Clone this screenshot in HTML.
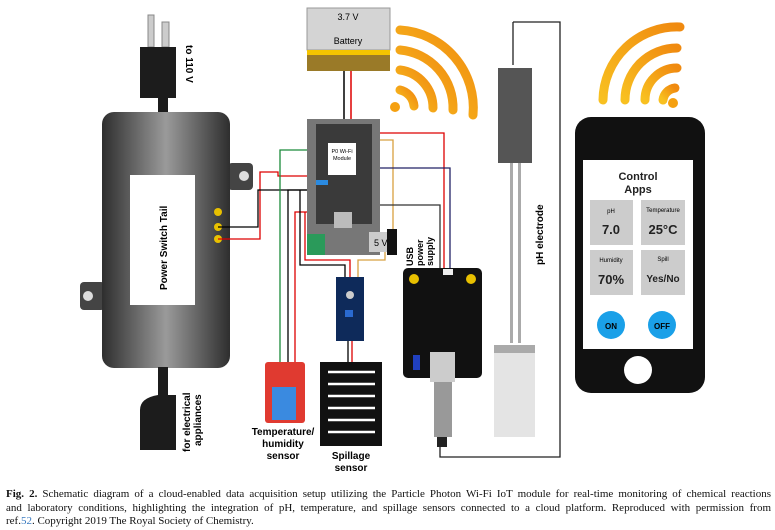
<!DOCTYPE html>
<html><head><meta charset="utf-8"><style>
body{margin:0;background:#fff;width:775px;height:530px;overflow:hidden}
svg{position:absolute;left:0;top:0}
.cap{position:absolute;left:6px;top:488px;width:765px;font-family:"Liberation Serif",serif;font-size:11px;line-height:13.5px;color:#111}
.cap div{text-align:justify;text-align-last:justify;white-space:nowrap}
.cap div.l{text-align-last:left}
</style></head><body>
<svg width="775" height="480" viewBox="0 0 775 480" font-family="Liberation Sans, sans-serif">
<defs>
<linearGradient id="box" x1="0" x2="1"><stop offset="0" stop-color="#2e2e2e"/><stop offset="0.5" stop-color="#9a9a9a"/><stop offset="1" stop-color="#2e2e2e"/></linearGradient>
<linearGradient id="wifi" x1="0" y1="1" x2="1" y2="0"><stop offset="0" stop-color="#f8c020"/><stop offset="1" stop-color="#f08a10"/></linearGradient>
</defs>
<rect x="148" y="15" width="6" height="32" fill="#ccc" stroke="#888"/>
<rect x="162" y="22" width="7" height="25" fill="#ccc" stroke="#888"/>
<path d="M140 47 H176 V98 H168 V112 H158 V98 H140 Z" fill="#1c1c1c"/>
<text transform="translate(186,45) rotate(90)" font-size="10" font-weight="bold">to 110 V</text>
<rect x="228" y="163" width="25" height="27" rx="4" fill="#444"/><circle cx="244" cy="176" r="5" fill="#ddd"/>
<rect x="80" y="282" width="25" height="28" rx="4" fill="#444"/><circle cx="88" cy="296" r="5" fill="#ddd"/>
<rect x="102" y="112" width="128" height="256" rx="12" fill="url(#box)"/>
<rect x="130" y="175" width="65" height="130" fill="#fff"/>
<text transform="translate(167,290) rotate(-90)" font-size="10" font-weight="bold">Power Switch Tail</text>
<circle cx="218" cy="212" r="4" fill="#e8c000"/><circle cx="218" cy="227" r="4" fill="#e8c000"/><circle cx="218" cy="239" r="4" fill="#e8c000"/>
<path d="M158 367 H168 V395 H176 V450 H140 V410 Q140 398 158 395 Z" fill="#1c1c1c"/>
<text transform="translate(190,452) rotate(-90)" font-size="10" font-weight="bold">for electrical</text>
<text transform="translate(201,446) rotate(-90)" font-size="10" font-weight="bold">appliances</text>
<rect x="307" y="8" width="83" height="42" fill="#d4d4d4" stroke="#999"/>
<rect x="307" y="50" width="83" height="5" fill="#f5c400"/>
<rect x="307" y="55" width="83" height="16" fill="#9a7a28"/>
<text x="348" y="20" font-size="9" text-anchor="middle">3.7 V</text>
<text x="348" y="44" font-size="9" text-anchor="middle">Battery</text>
<path d="M344 71 V120" stroke="#000" stroke-width="1.5"/><path d="M351 71 V120" stroke="#d00" stroke-width="1.5"/>
<g fill="none" stroke="url(#wifi)" stroke-width="9" stroke-linecap="round">
<path d="M400 90 A18 18 0 0 1 414 106"/><path d="M400 70 A38 38 0 0 1 433 108"/><path d="M400 50 A58 58 0 0 1 453 110"/><path d="M400 30 A78 78 0 0 1 473 115"/>
</g><circle cx="395" cy="107" r="5" fill="#f5a010"/>
<g fill="none" stroke="url(#wifi)" stroke-width="9" stroke-linecap="round">
<path d="M663 100 A14 14 0 0 1 675 88"/><path d="M645 100 A32 32 0 0 1 677 68"/><path d="M625 100 A52 52 0 0 1 677 48"/><path d="M603 100 A74 74 0 0 1 680 27"/>
</g><circle cx="673" cy="103" r="5" fill="#f5a010"/>
<g fill="none" stroke-width="1.3">
<path d="M218 239 H260 V172 H278 V176 H312" stroke="#d00"/>
<path d="M218 227 H258 V190 H312" stroke="#000"/>
<path d="M312 150 H280 V390" stroke="#1a8a3a"/>
<path d="M312 190 H288 V390" stroke="#000"/>
<path d="M312 212 H295 V390" stroke="#d00"/>
<path d="M300 190 V265 H345 V280" stroke="#000"/>
<path d="M305 212 V260 H350 V280" stroke="#d00"/>
<path d="M380 140 H393 V240 H385 V260 H358 V280" stroke="#d8a040"/>
<path d="M380 133 H444 V270" stroke="#d00"/>
<path d="M380 168 H450 V270" stroke="#226"/>
<path d="M380 205 H440 V270" stroke="#333"/>
<path d="M348 340 V368" stroke="#000"/><path d="M352 340 V368" stroke="#d00"/>
<path d="M513 22 V65 M513 22 H560 V457 H440 V440" stroke="#222"/>
</g>
<rect x="307" y="119" width="73" height="136" fill="#777"/>
<rect x="316" y="124" width="56" height="100" fill="#3a3a3a"/>
<rect x="328" y="143" width="28" height="32" fill="#fff"/>
<text x="342" y="153" font-size="5.5" text-anchor="middle">P0 Wi-Fi</text>
<text x="342" y="160" font-size="5.5" text-anchor="middle">Module</text>
<rect x="316" y="180" width="12" height="5" fill="#2a8ae0"/>
<rect x="334" y="212" width="18" height="16" fill="#bbb"/>
<rect x="307" y="234" width="18" height="21" fill="#2a9a5a"/>
<rect x="369" y="232" width="28" height="20" fill="#ccc"/>
<rect x="387" y="229" width="10" height="26" fill="#111"/>
<text x="374" y="246" font-size="9">5 V</text>
<g font-size="9" font-weight="bold"><text transform="translate(413,266) rotate(-90)">USB</text><text transform="translate(423,266) rotate(-90)">power</text><text transform="translate(433,266) rotate(-90)">supply</text></g>
<rect x="336" y="277" width="28" height="64" fill="#0e2a5a"/>
<circle cx="350" cy="295" r="4" fill="#ccc"/><rect x="345" y="310" width="8" height="7" fill="#2a6ad0"/>
<rect x="265" y="362" width="40" height="61" rx="3" fill="#e03a30"/>
<rect x="272" y="387" width="24" height="33" fill="#3a8ae0"/>
<g font-size="10" font-weight="bold" text-anchor="middle"><text x="283" y="435">Temperature/</text><text x="283" y="447">humidity</text><text x="283" y="459">sensor</text>
<text x="351" y="459">Spillage</text><text x="351" y="471">sensor</text></g>
<rect x="320" y="362" width="62" height="84" fill="#111"/>
<g stroke="#fff" stroke-width="2.5"><path d="M328 372 H375 M328 384 H375 M328 396 H375 M328 408 H375 M328 420 H375 M328 432 H375"/></g>
<rect x="403" y="268" width="79" height="110" rx="5" fill="#111"/>
<circle cx="414" cy="279" r="5" fill="#e8c000"/><circle cx="471" cy="279" r="5" fill="#e8c000"/>
<rect x="443" y="269" width="10" height="6" fill="#eee"/>
<rect x="413" y="355" width="7" height="15" fill="#2040c0"/>
<rect x="430" y="352" width="25" height="30" fill="#ccc"/>
<rect x="434" y="382" width="18" height="55" fill="#999"/>
<rect x="437" y="437" width="10" height="10" fill="#222"/>
<rect x="498" y="68" width="34" height="95" fill="#555"/>
<rect x="510" y="163" width="3" height="180" fill="#aaa"/><rect x="518" y="163" width="3" height="180" fill="#aaa"/>
<rect x="494" y="345" width="41" height="92" fill="#e4e4e4"/>
<rect x="494" y="345" width="41" height="8" fill="#aaa"/>
<text transform="translate(543,265) rotate(-90)" font-size="10" font-weight="bold">pH electrode</text>
<rect x="575" y="117" width="130" height="276" rx="16" fill="#111"/>
<rect x="583" y="160" width="110" height="189" fill="#fff"/>
<text x="638" y="180" font-size="11" text-anchor="middle" font-weight="bold" fill="#222">Control</text>
<text x="638" y="193" font-size="11" text-anchor="middle" font-weight="bold" fill="#222">Apps</text>
<rect x="590" y="200" width="43" height="45" fill="#ccc"/><rect x="641" y="200" width="44" height="45" fill="#ccc"/>
<rect x="590" y="250" width="43" height="45" fill="#ccc"/><rect x="641" y="250" width="44" height="45" fill="#ccc"/>
<g font-size="6" text-anchor="middle"><text x="611" y="213">pH</text><text x="663" y="212">Temperature</text><text x="611" y="262">Humidity</text><text x="663" y="261">Spill</text></g>
<g font-size="13" text-anchor="middle" font-weight="bold" fill="#222"><text x="611" y="234">7.0</text><text x="663" y="234">25°C</text><text x="611" y="284">70%</text><text x="663" y="282" font-size="10">Yes/No</text></g>
<circle cx="611" cy="325" r="14" fill="#1aa0e8"/><circle cx="662" cy="325" r="14" fill="#1aa0e8"/>
<text x="611" y="329" font-size="8" text-anchor="middle" font-weight="bold">ON</text><text x="662" y="329" font-size="8" text-anchor="middle" font-weight="bold">OFF</text>
<circle cx="638" cy="370" r="14" fill="#fff"/>
</svg>
<div class="cap">
<div><b>Fig. 2.</b> Schematic diagram of a cloud-enabled data acquisition setup utilizing the Particle Photon Wi-Fi IoT module for real-time monitoring of chemical reactions</div>
<div>and laboratory conditions, highlighting the integration of pH, temperature, and spillage sensors connected to a cloud platform. Reproduced with permission from</div>
<div class="l">ref.<span style="color:#3a7ac0">52</span>. Copyright 2019 The Royal Society of Chemistry.</div>
</div>
</body></html>
